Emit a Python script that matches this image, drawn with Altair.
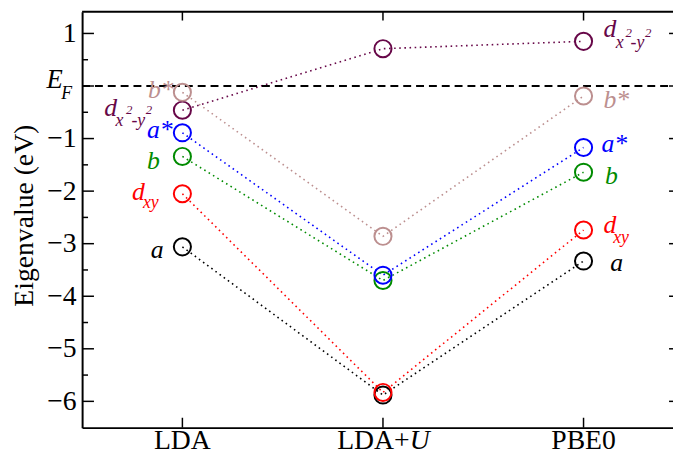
import altair as alt
import pandas as pd

# ---- data -------------------------------------------------------------
methods = ["LDA", "LDA+U", "PBE0"]
method_pos = [1, 2, 3]
series = ["a", "dxy", "b", "a*", "dx2-y2", "b*"]
colors = ["#000000", "#ff0000", "#008b00", "#0000ff", "#670748", "#bc8f8f"]
lda = [-3.06, -2.05, -1.34, -0.89, -0.46, -0.12]
ldau = [-5.88, -5.83, -3.70, -3.60, 0.71, -2.86]
pbe0 = [-3.33, -2.74, -1.64, -1.17, 0.85, -0.19]

# level labels (annotation anchors in data units: method axis, eV)
lab_text = ["b*", "d", "x", "2", "-y", "2", "a*", "b", "d", "xy", "a",
            "d", "x", "2", "-y", "2", "b*", "a*", "b", "d", "xy", "a"]
lab_series = ["b*", "dx2-y2", "dx2-y2", "dx2-y2", "dx2-y2", "dx2-y2", "a*", "b", "dxy", "dxy", "a",
              "dx2-y2", "dx2-y2", "dx2-y2", "dx2-y2", "dx2-y2", "b*", "a*", "b", "dxy", "dxy", "a"]
lab_kind = ["main", "main", "sub", "sup", "sub", "sup", "main", "main", "main", "sub", "main",
            "main", "sub", "sup", "sub", "sup", "main", "main", "main", "main", "sub", "main"]
lab_x = [0.828, 0.611, 0.667, 0.719, 0.746, 0.817, 0.823, 0.823, 0.749, 0.803, 0.842,
         3.099, 3.160, 3.209, 3.234, 3.307, 3.099, 3.089, 3.107, 3.099, 3.148, 3.133]
lab_y = [-0.233, -0.577, -0.765, -0.539, -0.765, -0.539, -0.985, -1.573, -2.171, -2.321, -3.271,
         0.927, 0.720, 0.927, 0.720, 0.927, -0.427, -1.248, -1.861, -2.795, -2.983, -3.523]

major_ticks = [1, 0, -1, -2, -3, -4, -5, -6]
y_labels = [1, -1, -2, -3, -4, -5, -6]
minor_ticks = [0.5, -0.5, -1.5, -2.5, -3.5, -4.5, -5.5]

# ---- layout ------------------------------------------------------------
W, H = 598, 421
XDOM = [0.5, 3.446]
YDOM = [-6.5, 1.415]
SERIF = "Liberation Serif, Times New Roman, Times, serif"
kind_size = {"main": 26, "sub": 18, "sup": 13}

rows = []
for s, a, b, c in zip(series, lda, ldau, pbe0):
    for m, p, v in zip(methods, method_pos, (a, b, c)):
        rows.append({"series": s, "method": m, "pos": p, "value": v})
df = pd.DataFrame(rows)

lab_df = pd.DataFrame({"text": lab_text, "series": lab_series, "x": lab_x, "y": lab_y,
                       "size": [kind_size[k] for k in lab_kind]})

xs = alt.Scale(domain=XDOM, nice=False, zero=False)
ys = alt.Scale(domain=YDOM, nice=False, zero=False)
cs = alt.Scale(domain=series, range=colors)

one = pd.DataFrame({"k": [0]})

base_x = alt.X("pos:Q", scale=xs, axis=alt.Axis(labels=False, ticks=False, grid=False, title=None,
                                                domainColor="black", domainWidth=2))
base_y = alt.Y("value:Q", scale=ys, axis=alt.Axis(values=y_labels, ticks=False, tickSize=0, grid=False,
                                                  title=None, domainColor="black", domainWidth=2,
                                                  labelFont=SERIF, labelFontSize=28, labelColor="black",
                                                  labelPadding=6))

lines = alt.Chart(df).mark_line(strokeDash=[1.6, 3.6], strokeWidth=1.6).encode(
    x=base_x, y=base_y,
    color=alt.Color("series:N", scale=cs, legend=None),
    detail="series:N", order="pos:Q")

points = alt.Chart(df).mark_point(shape="circle", filled=False, size=300, strokeWidth=2, opacity=1).encode(
    x=alt.X("pos:Q", scale=xs), y=alt.Y("value:Q", scale=ys),
    color=alt.Color("series:N", scale=cs, legend=None))

labels = alt.Chart(lab_df).mark_text(font=SERIF, fontStyle="italic", align="left",
                                     baseline="alphabetic").encode(
    x=alt.X("x:Q", scale=xs), y=alt.Y("y:Q", scale=ys),
    text="text:N", size=alt.Size("size:Q", scale=None),
    color=alt.Color("series:N", scale=cs, legend=None))

# frame top
top_line = alt.Chart(one).mark_rule(color="black", strokeWidth=2).encode(
    x=alt.value(0), x2=alt.value(W), y=alt.value(0))

# Fermi level
ef_df = pd.DataFrame({"value": [0]})
ef_line = alt.Chart(ef_df).mark_rule(color="black", strokeWidth=1.8, strokeDash=[8, 5]).encode(
    x=alt.value(0), x2=alt.value(W), y=alt.Y("value:Q", scale=ys))
ef_E = alt.Chart(ef_df).mark_text(text="E", font=SERIF, fontStyle="italic", fontSize=27,
                                  align="left", baseline="alphabetic", dy=2.5, color="black").encode(
    x=alt.value(-36), y=alt.Y("value:Q", scale=ys))
ef_F = alt.Chart(ef_df).mark_text(text="F", font=SERIF, fontStyle="italic", fontSize=18,
                                  align="left", baseline="alphabetic", dy=12.7, color="black").encode(
    x=alt.value(-21), y=alt.Y("value:Q", scale=ys))

# ticks (inward)
maj_df = pd.DataFrame({"value": major_ticks})
min_df = pd.DataFrame({"value": minor_ticks})
left_major = alt.Chart(maj_df).mark_rule(color="black", strokeWidth=1.5).encode(
    x=alt.value(0), x2=alt.value(12), y=alt.Y("value:Q", scale=ys))
left_minor = alt.Chart(min_df).mark_rule(color="black", strokeWidth=1.5).encode(
    x=alt.value(0), x2=alt.value(6), y=alt.Y("value:Q", scale=ys))
right_major = alt.Chart(maj_df).mark_rule(color="black", strokeWidth=1.5).encode(
    x=alt.value(W - 4), x2=alt.value(W), y=alt.Y("value:Q", scale=ys))

m_df = pd.DataFrame({"pos": method_pos, "method": methods})
top_ticks = alt.Chart(m_df).mark_rule(color="black", strokeWidth=1.5).encode(
    x=alt.X("pos:Q", scale=xs), y=alt.value(0), y2=alt.value(9))
bot_ticks = alt.Chart(m_df).mark_rule(color="black", strokeWidth=1.5).encode(
    x=alt.X("pos:Q", scale=xs), y=alt.value(H - 10), y2=alt.value(H))

# x tick labels
xl_df = pd.DataFrame({"pos": [1, 3], "method": ["LDA", "PBE0"]})
xlab = alt.Chart(xl_df).mark_text(font=SERIF, fontSize=28, align="center", baseline="alphabetic",
                                  color="black").encode(
    x=alt.X("pos:Q", scale=xs), y=alt.value(H + 22), text="method:N")
xu_df = pd.DataFrame({"pos": [2], "a": ["LDA+"], "b": ["U"]})
xlab_u1 = alt.Chart(xu_df).mark_text(font=SERIF, fontSize=28, align="right", baseline="alphabetic",
                                     dx=27, color="black").encode(
    x=alt.X("pos:Q", scale=xs), y=alt.value(H + 22), text="a:N")
xlab_u2 = alt.Chart(xu_df).mark_text(font=SERIF, fontSize=28, fontStyle="italic", align="left",
                                     baseline="alphabetic", dx=27, color="black").encode(
    x=alt.X("pos:Q", scale=xs), y=alt.value(H + 22), text="b:N")

ytitle = alt.Chart(one).mark_text(text="Eigenvalue (eV)", font=SERIF, fontSize=28, angle=270,
                                  align="center", baseline="middle", color="black").encode(
    x=alt.value(-58), y=alt.value(206.5))

chart = alt.layer(
    lines, top_line, ef_line, left_major, left_minor, right_major, top_ticks, bot_ticks,
    points, labels, ef_E, ef_F, xlab, xlab_u1, xlab_u2, ytitle
).properties(
    width=W, height=H,
    autosize=alt.AutoSizeParams(type="none"),
    padding={"left": 75, "top": 1, "right": 0, "bottom": 24},
    background="white",
).configure_view(stroke=None)

chart.save("out.html", embed_options={"renderer": "svg", "actions": False})
